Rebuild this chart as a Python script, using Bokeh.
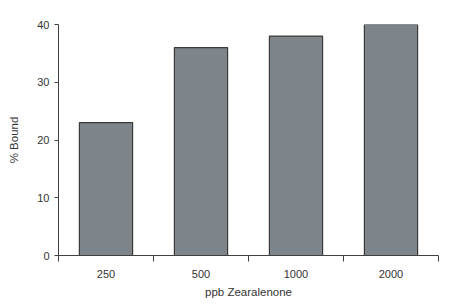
from bokeh.plotting import figure
from bokeh.models import FixedTicker, Range1d
from bokeh.embed import file_html
from bokeh.resources import INLINE

categories = ["250", "500", "1000", "2000"]
bound = [23, 36, 38, 40]
y_ticks = [0, 10, 20, 30, 40]

xs = [i + 0.5 for i in range(len(categories))]

p = figure(width=450, height=304, output_backend="svg", toolbar_location=None,
           x_range=Range1d(0, len(categories)), y_range=Range1d(0, 40),
           min_border_left=58, min_border_right=12, min_border_top=24, min_border_bottom=49)
p.outline_line_color = None
p.xgrid.grid_line_color = None
p.ygrid.grid_line_color = None
p.background_fill_color = "white"
p.border_fill_color = "white"

p.vbar(x=xs, top=bound, bottom=0, width=0.56, fill_color="#7d848a",
       line_color="#3a3a3a", line_width=1.2)

font = "Liberation Sans"
# x axis
xa = p.xaxis[0]
xa.ticker = FixedTicker(ticks=xs, minor_ticks=list(range(len(categories) + 1)))
xa.major_label_overrides = {x: c for x, c in zip(xs, categories)}
xa.major_tick_line_color = None
xa.minor_tick_line_color = "#404040"
xa.minor_tick_out = 6
xa.minor_tick_in = 0
xa.axis_line_color = "#404040"
xa.major_label_standoff = 8
xa.axis_label = "ppb Zearalenone"
xa.axis_label_standoff = 5

# y axis
ya = p.yaxis[0]
ya.ticker = FixedTicker(ticks=y_ticks)
ya.minor_tick_line_color = None
ya.major_tick_out = 4
ya.major_tick_in = 0
ya.major_tick_line_color = "#404040"
ya.axis_line_color = "#404040"
ya.major_label_standoff = 5
ya.axis_label = "% Bound"
ya.axis_label_standoff = 14

for ax in (xa, ya):
    ax.major_label_text_font = font
    ax.major_label_text_font_size = "11px"
    ax.major_label_text_color = "#333333"
    ax.axis_label_text_font = font
    ax.axis_label_text_font_size = "11.5px"
    ax.axis_label_text_font_style = "normal"
    ax.axis_label_text_color = "#333333"

open("out.html", "w").write(file_html(p, INLINE))
